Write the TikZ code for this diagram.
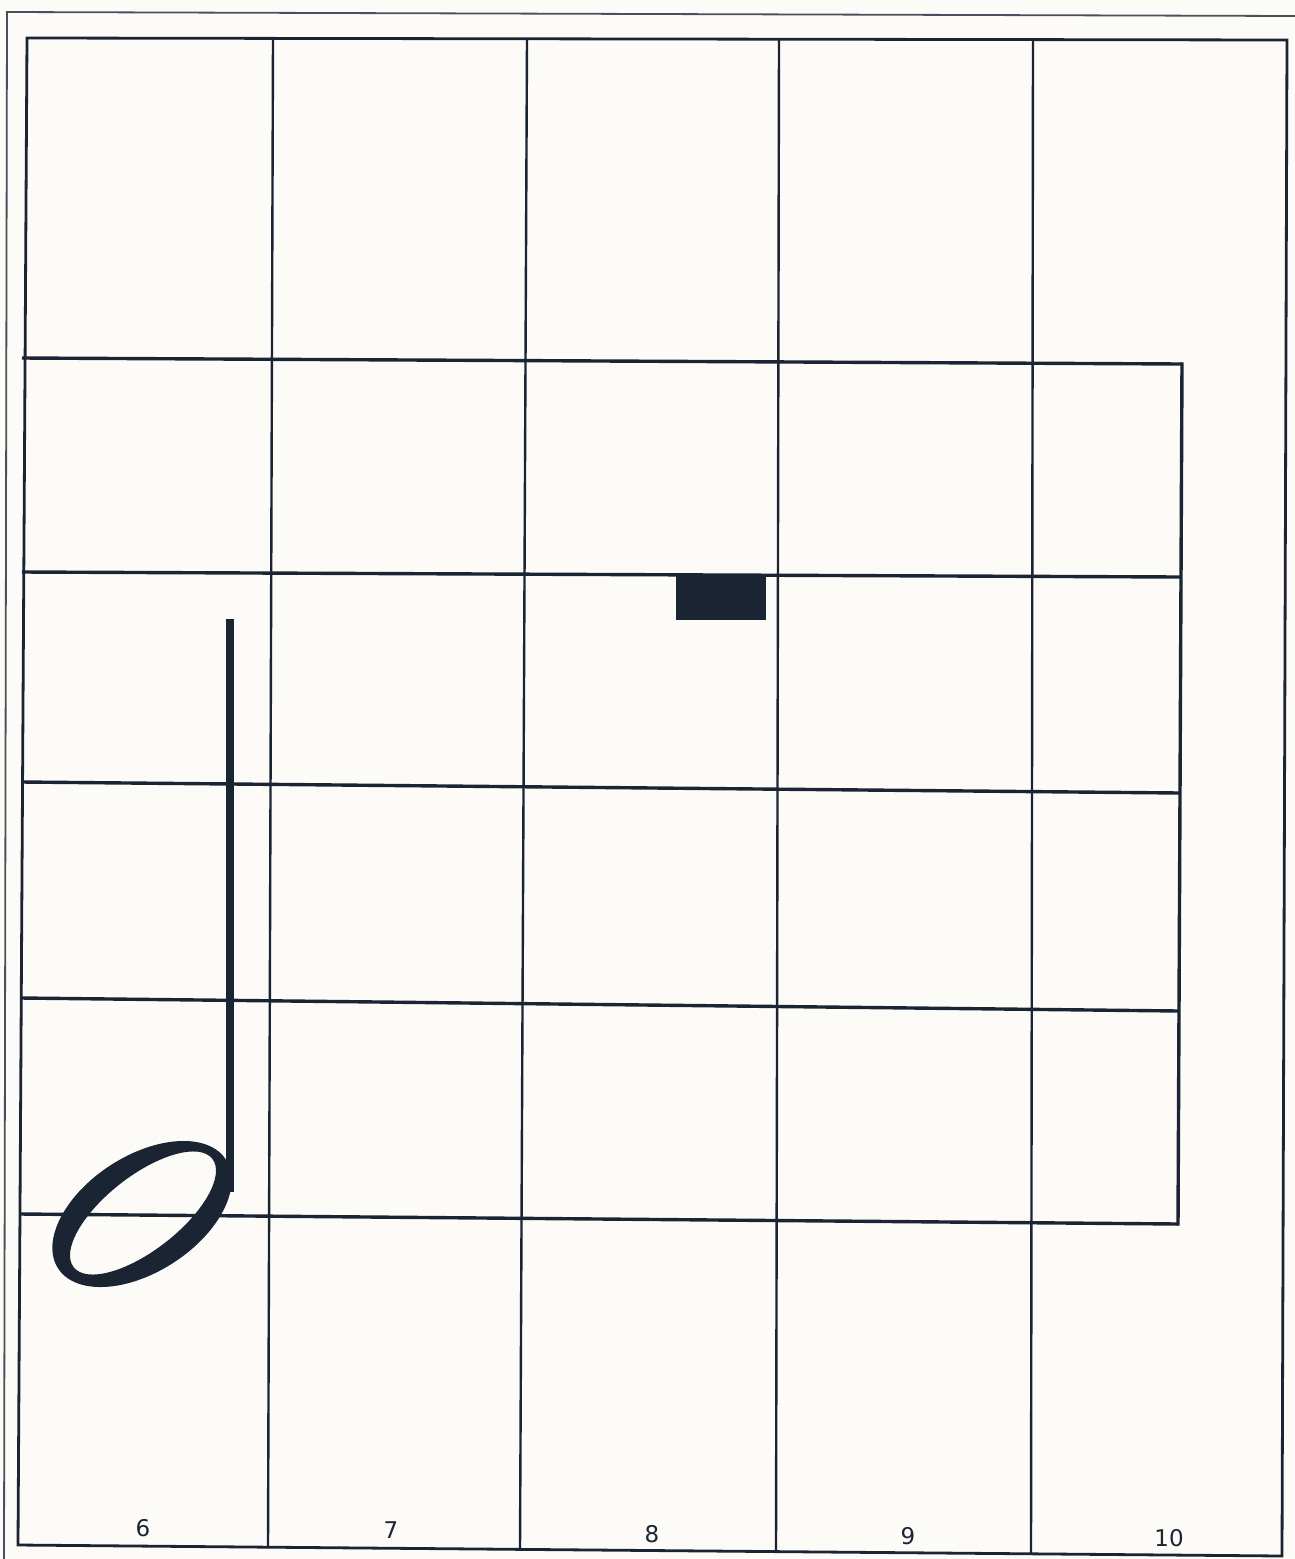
\documentclass[tikz,border=0pt]{standalone}
\usepackage{fontspec}
\setmainfont{DejaVu Sans}
\definecolor{ink}{HTML}{1B2433}
\definecolor{paper}{HTML}{FCFBF8}
\begin{document}
\begin{tikzpicture}[x=1pt,y=-1pt,
  hline/.style={draw=ink,line width=3.4pt},
  vline/.style={draw=ink,line width=2.4pt},
  frameline/.style={draw=ink,line width=2.8pt},
  pageline/.style={draw=ink!80,line width=1.8pt},
  collabel/.style={font=\fontsize{23}{23}\selectfont,text=ink,inner sep=0pt}]
\useasboundingbox[fill=paper] (0,0) rectangle (1295,1559);
% page border
\draw[pageline] (4,1559) -- (7,12) -- (1295,16);
% inner frame
\draw[frameline] (27,38) -- (1287,40) -- (1282,1556) -- (18,1545) -- cycle;
% column lines
\draw[vline] (273,39) -- (268,1548);
\draw[vline] (527,39) -- (520,1550);
\draw[vline] (779,40) -- (776,1552);
\draw[vline] (1033,40) -- (1031,1553);
% staff lines
\draw[hline] (22,358) -- (1182,364);
\draw[hline] (22,572) -- (1180,577);
\draw[hline] (22,782) -- (1180,793);
\draw[hline] (21,998) -- (1179,1011);
\draw[hline] (20,1214) -- (1178,1224);
% right side of the box
\draw[draw=ink,line width=3.4pt] (1182,362.3) -- (1178,1225.7);
% black rest block
\fill[ink] (676,576) rectangle (766,620);
% half note
\fill[ink] (226,619) rectangle (234,1192);
\fill[ink,even odd rule] (142,1214) ellipse[x radius=100pt, y radius=58pt, rotate=33]
  (143,1213) ellipse[x radius=88pt, y radius=37pt, rotate=38];
% column labels
\node[collabel] (l6) at (143,1528) {6};
\node[collabel] (l7) at (391,1530) {7};
\node[collabel] (l8) at (652,1534) {8};
\node[collabel] (l9) at (908,1536) {9};
\node[collabel] (l10) at (1169,1538) {10};
\end{tikzpicture}
\end{document}
